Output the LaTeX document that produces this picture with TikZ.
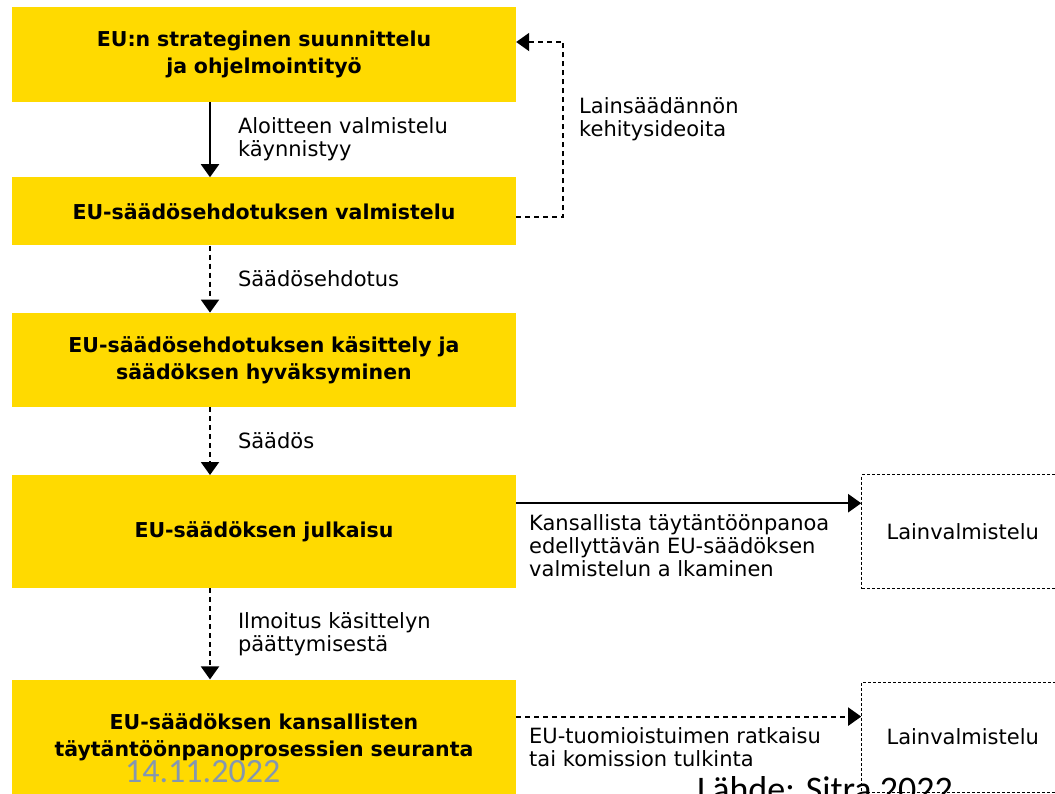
\documentclass[tikz,border=0pt]{standalone}
\usepackage{fontspec}
\setmainfont{DejaVu Sans}
\newfontfamily\slidefont{Carlito}
\usepackage{xcolor}
\usetikzlibrary{positioning, arrows.meta}
\definecolor{sitrayellow}{RGB}{255,218,0}
\definecolor{slidegray}{RGB}{132,151,176}

\begin{document}
\begin{tikzpicture}[
    x=1pt, y=1pt,
    stage/.style={rectangle, fill=sitrayellow, minimum width=504pt, text width=480pt, align=center, inner sep=0pt, font=\fontsize{20.5}{27}\selectfont\bfseries},
    lawprep/.style={rectangle, draw, line width=1.1pt, dash pattern=on 3pt off 2pt, minimum width=202pt, inner sep=0pt, align=center, font=\fontsize{21}{23}\selectfont},
    note/.style={align=left, inner sep=0pt, font=\fontsize{21}{23}\selectfont},
    flow/.style={line width=2pt, -{Triangle[width=18pt,length=13pt]}},
    dflow/.style={flow, dash pattern=on 5pt off 4pt}
]
\useasboundingbox (0,0) rectangle (1055,-793);

% Process stages
\node[stage, minimum height=95pt] (strat) at (264,-54.5) {EU:n strateginen suunnittelu\\ja ohjelmointityö};
\node[stage, minimum height=68pt, below=75pt of strat] (prep) {EU-säädösehdotuksen valmistelu};
\node[stage, minimum height=94pt, below=67pt of prep] (adopt) {EU-säädösehdotuksen käsittely ja\\säädöksen hyväksyminen};
\node[stage, minimum height=113pt, below=68pt of adopt] (publ) {EU-säädöksen julkaisu};
\node[stage, minimum height=115pt, below=91pt of publ] (follow) {EU-säädöksen kansallisten\\täytäntöönpanoprosessien seuranta};

% National law drafting
\node[lawprep, minimum height=114pt, right=345pt of publ] (law1) {Lainvalmistelu};
\node[lawprep, minimum height=110pt, right=345pt of follow] (law2) {Lainvalmistelu};

% Main flow
\draw[flow] ([xshift=-54pt]strat.south) -- node[right=27pt, note] {Aloitteen valmistelu\\käynnistyy} ([xshift=-54pt]prep.north);
\draw[dflow] ([xshift=-54pt]prep.south) -- node[right=27pt, note] {Säädösehdotus} ([xshift=-54pt]adopt.north);
\draw[dflow] ([xshift=-54pt]adopt.south) -- node[right=27pt, note] {Säädös} ([xshift=-54pt]publ.north);
\draw[dflow] ([xshift=-54pt]publ.south) -- node[right=27pt, note] {Ilmoitus käsittelyn\\päättymisestä} ([xshift=-54pt]follow.north);

% Feedback loop
\draw[dflow] ([yshift=-6pt]prep.east) -- ++(47,0) |- node[pos=0.28, right=15pt, note] {Lainsäädännön\\kehitysideoita} ([yshift=12.5pt]strat.east);

% Links to national drafting
\draw[flow] ([yshift=28.5pt]publ.east) coordinate (m4) -- (m4 -| law1.west)
    node[pos=0, anchor=north west, xshift=12pt, yshift=-10pt, note] {Kansallista täytäntöönpanoa\\edellyttävän EU-säädöksen\\valmistelun a lkaminen};
\draw[dflow] ([yshift=20.5pt]follow.east) coordinate (m5) -- (m5 -| law2.west)
    node[pos=0, anchor=north west, xshift=12pt, yshift=-10pt, note] {EU-tuomioistuimen ratkaisu\\tai komission tulkinta};

% Slide texts
\node[anchor=base west, inner sep=0pt, text=slidegray, font=\slidefont\fontsize{34}{40}\selectfont] (date) at (125,-782) {14.11.2022};
\node[anchor=base west, inner sep=0pt, font=\slidefont\fontsize{36}{42}\selectfont] (source) at (697,-801) {Lähde: Sitra 2022};

\end{tikzpicture}
\end{document}
